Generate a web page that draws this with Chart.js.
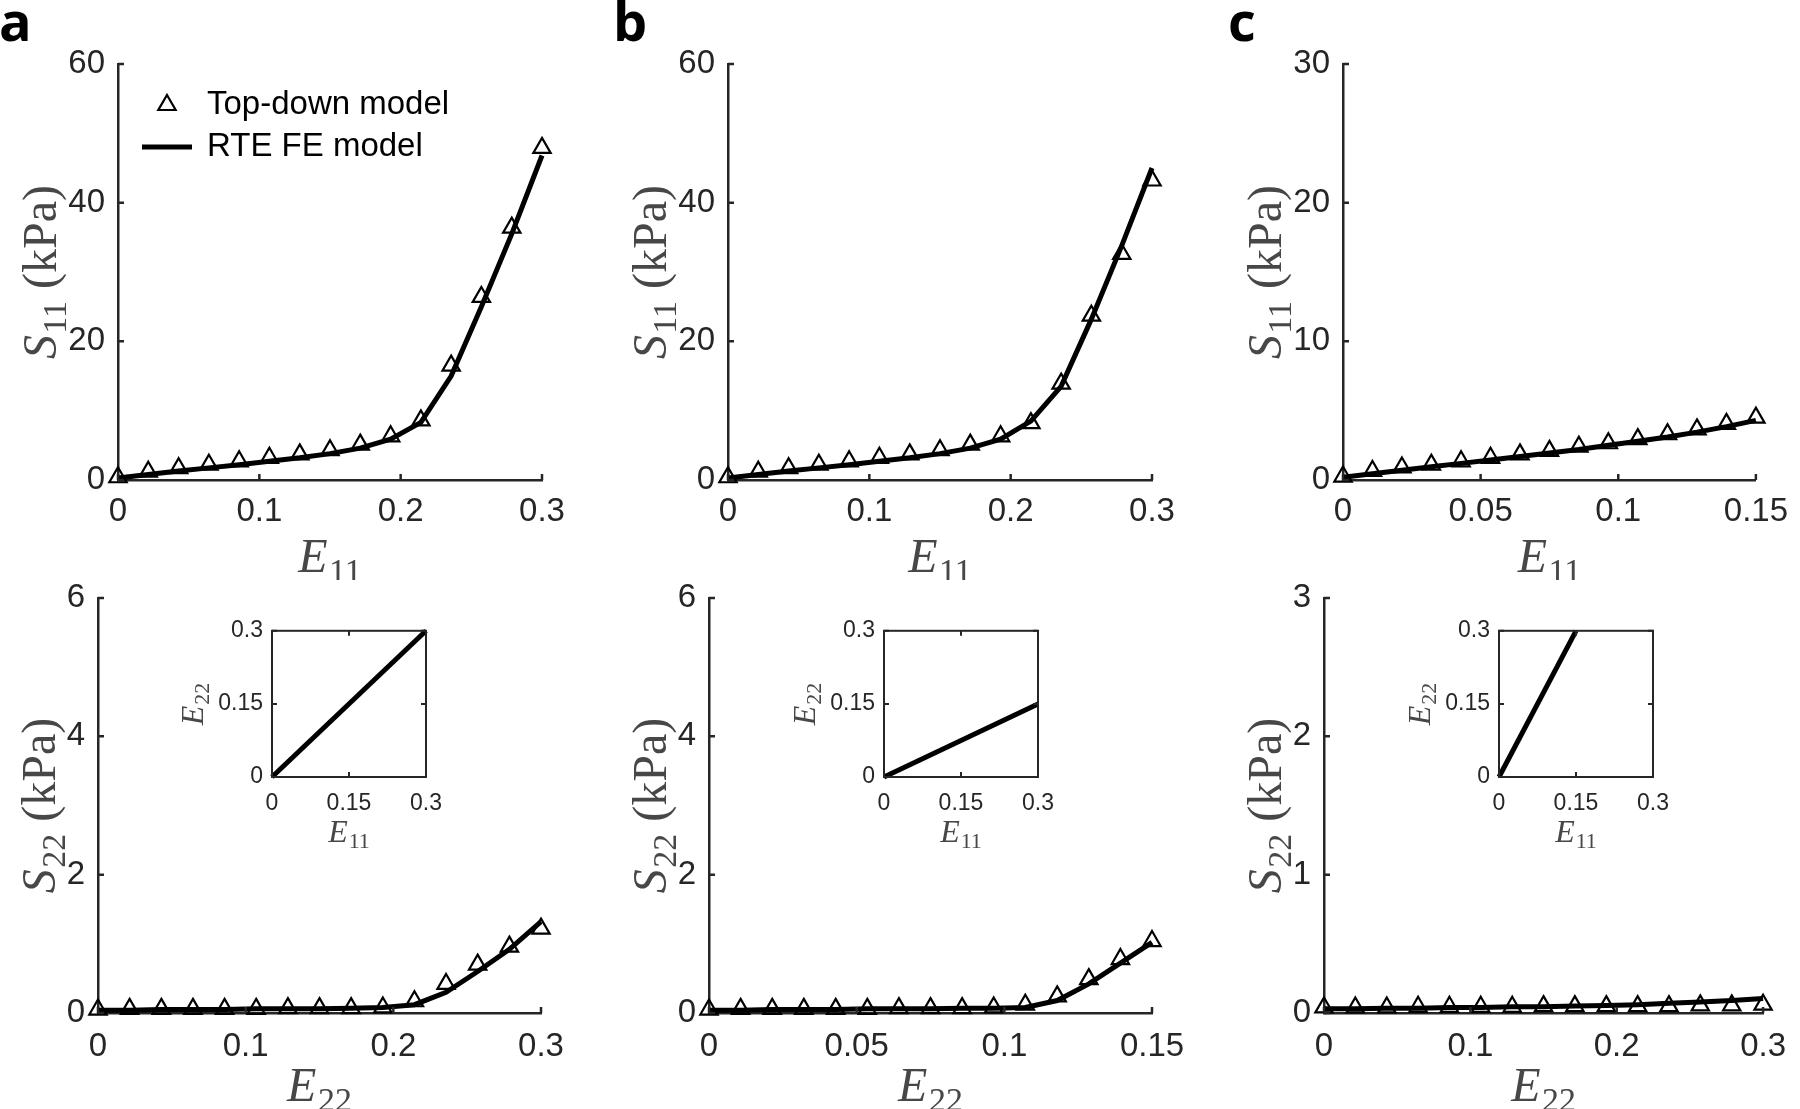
<!DOCTYPE html>
<html><head><meta charset="utf-8">
<script src="https://cdn.jsdelivr.net/npm/chart.js@4.4.0/dist/chart.umd.min.js"></script>
<style>
html,body{margin:0;padding:0;background:#fff;width:1800px;height:1109px;overflow:hidden;position:relative;}
canvas{position:absolute;}
.plabel{position:absolute;font-family:"Open Sans",sans-serif;font-weight:700;font-size:54px;line-height:54px;color:#000;}
</style></head><body>
<div class="plabel" style="left:-1px;top:-7px">a</div>
<div class="plabel" style="left:613px;top:-7px">b</div>
<div class="plabel" style="left:1228px;top:-7px">c</div>
<script>
// ---------------- data ----------------
const strainFull = [0, 0.0214, 0.0429, 0.0643, 0.0857, 0.1071, 0.1286, 0.15, 0.1714, 0.1929, 0.2143, 0.2357, 0.2571, 0.2786, 0.3];
const strainHalf = [0, 0.0107, 0.0214, 0.0321, 0.0429, 0.0536, 0.0643, 0.075, 0.0857, 0.0964, 0.1071, 0.1179, 0.1286, 0.1393, 0.15];

// top row: S11 vs E11
const topDownS11_a = [0.4, 1.2, 1.7, 2.2, 2.7, 3.2, 3.7, 4.3, 5.1, 6.3, 8.6, 16.5, 26.4, 36.4, 47.9];
const feS11_a      = [0.3, 0.8, 1.3, 1.75, 2.2, 2.7, 3.2, 3.8, 4.6, 5.9, 8.3, 15.0, 25.0, 35.5, 46.8];
const topDownS11_b = [0.4, 1.2, 1.7, 2.2, 2.7, 3.2, 3.7, 4.3, 5.1, 6.3, 8.2, 13.9, 23.7, 32.6, 43.2];
const feS11_b      = [0.3, 0.8, 1.3, 1.75, 2.2, 2.7, 3.2, 3.8, 4.6, 5.9, 8.5, 13.5, 23.2, 33.8, 45.0];
const topDownS11_c = [0.25, 0.65, 0.9, 1.1, 1.35, 1.6, 1.85, 2.1, 2.4, 2.65, 2.95, 3.3, 3.65, 4.05, 4.5];
const feS11_c      = [0.2, 0.45, 0.7, 0.95, 1.2, 1.45, 1.7, 1.95, 2.2, 2.5, 2.8, 3.1, 3.45, 3.85, 4.3];

// bottom row: S22 vs E22
const topDownS22_a = [0.05, 0.06, 0.06, 0.06, 0.06, 0.06, 0.07, 0.07, 0.07, 0.08, 0.17, 0.42, 0.70, 0.96, 1.22];
const feS22_a      = [0.04, 0.04, 0.05, 0.05, 0.05, 0.06, 0.06, 0.06, 0.07, 0.08, 0.12, 0.30, 0.60, 0.92, 1.32];
const topDownS22_b = [0.05, 0.06, 0.06, 0.06, 0.06, 0.06, 0.07, 0.07, 0.07, 0.08, 0.12, 0.24, 0.49, 0.78, 1.04];
const feS22_b      = [0.04, 0.04, 0.05, 0.05, 0.05, 0.06, 0.06, 0.06, 0.07, 0.07, 0.08, 0.18, 0.42, 0.72, 1.02];
const topDownS22_c = [0.04, 0.04, 0.04, 0.045, 0.045, 0.045, 0.045, 0.05, 0.05, 0.05, 0.05, 0.05, 0.055, 0.055, 0.06];
const feS22_c      = [0.03, 0.03, 0.035, 0.035, 0.04, 0.04, 0.045, 0.045, 0.05, 0.055, 0.06, 0.07, 0.08, 0.09, 0.105];

// insets: E22 vs E11
const insetE11_a = [0, 0.3],  insetE22_a = [0, 0.3];
const insetE11_b = [0, 0.3],  insetE22_b = [0, 0.15];
const insetE11_c = [0, 0.15], insetE22_c = [0, 0.3];

// tick labels
const ticksE03  = [0, 0.1, 0.2, 0.3];
const ticksE015 = [0, 0.05, 0.1, 0.15];
const ticksS60  = [0, 20, 40, 60];
const ticksS30  = [0, 10, 20, 30];
const ticksS6   = [0, 2, 4, 6];
const ticksS3   = [0, 1, 2, 3];
const ticksInset = [0, 0.15, 0.3];

// ---------------- style ----------------
const SANS = '"Liberation Sans", Arial, sans-serif';
const SERIF = '"Liberation Serif", "Times New Roman", serif';
const AXIS = '#262626';
const TITLE = '#474747';

function pts(xs, ys) { return xs.map((x, i) => ({x: x, y: ys[i]})); }

function drawMathLabel(ctx, lab, cx, cy, size, rot) {
  const fMain = 'italic ' + size + 'px ' + SERIF;
  const fSub = Math.round(size * 0.7) + 'px ' + SERIF;
  const fTail = size + 'px ' + SERIF;
  ctx.save();
  ctx.translate(cx, cy);
  if (rot) ctx.rotate(-Math.PI / 2);
  ctx.font = fMain; const w1 = ctx.measureText(lab.main).width;
  ctx.font = fSub; const w2 = ctx.measureText(lab.sub).width;
  ctx.font = fTail; const w3 = lab.tail ? ctx.measureText(lab.tail).width : 0;
  const kern = size * 0.03;
  let x = -(w1 + kern + w2 + w3) / 2;
  const base = size * 0.25;
  ctx.fillStyle = TITLE; ctx.textBaseline = 'alphabetic'; ctx.textAlign = 'left';
  ctx.font = fMain; ctx.fillText(lab.main, x, base); x += w1 + kern;
  ctx.font = fSub; ctx.fillText(lab.sub, x, base + size * 0.2); x += w2;
  if (lab.tail) { ctx.font = fTail; ctx.fillText(lab.tail, x, base); }
  ctx.restore();
}

const decor = {
  id: 'decor',
  afterDraw(chart, args, o) {
    const ctx = chart.ctx, a = chart.chartArea, xs = chart.scales.x, ys = chart.scales.y;
    ctx.save();
    ctx.strokeStyle = AXIS; ctx.lineWidth = o.tickWidth; ctx.lineCap = 'butt';
    const L = o.tickLen;
    if (o.box) ctx.strokeRect(a.left, a.top, a.right - a.left, a.bottom - a.top);
    ctx.beginPath();
    xs.ticks.forEach(t => {
      const p = xs.getPixelForValue(t.value);
      ctx.moveTo(p, a.bottom); ctx.lineTo(p, a.bottom - L);
      if (o.box) { ctx.moveTo(p, a.top); ctx.lineTo(p, a.top + L); }
    });
    ys.ticks.forEach(t => {
      const p = ys.getPixelForValue(t.value);
      ctx.moveTo(a.left, p); ctx.lineTo(a.left + L, p);
      if (o.box) { ctx.moveTo(a.right, p); ctx.lineTo(a.right - L, p); }
    });
    ctx.stroke();
    drawMathLabel(ctx, o.xTitle, (a.left + a.right) / 2, a.bottom + o.xTitleGap, o.titleSize, false);
    drawMathLabel(ctx, o.yTitle, a.left - o.yTitleGap, (a.top + a.bottom) / 2, o.titleSize, true);
    if (o.legend) {
      const g = o.legend;
      const r = 10, tx = g.tx, ty = g.ty;
      ctx.beginPath();
      for (let k = 0; k < 3; k++) {
        const ang = k * 2 * Math.PI / 3;
        const px = tx + Math.sin(ang) * r, py = ty - Math.cos(ang) * r;
        if (k === 0) ctx.moveTo(px, py); else ctx.lineTo(px, py);
      }
      ctx.closePath();
      ctx.strokeStyle = '#000'; ctx.lineWidth = 2.2; ctx.stroke();
      ctx.beginPath(); ctx.moveTo(g.lx1, g.ly); ctx.lineTo(g.lx2, g.ly);
      ctx.lineWidth = 5; ctx.stroke();
      ctx.fillStyle = '#000'; ctx.font = '33px ' + SANS; ctx.textBaseline = 'middle'; ctx.textAlign = 'left';
      ctx.fillText(g.text1, g.textX, ty);
      ctx.fillText(g.text2, g.textX, g.ly);
    }
    ctx.restore();
  }
};

function makeCanvas(cx, cy, cw, ch, z) {
  const c = document.createElement('canvas');
  c.width = cw; c.height = ch;
  c.style.left = cx + 'px'; c.style.top = cy + 'px';
  c.style.width = cw + 'px'; c.style.height = ch + 'px';
  c.style.zIndex = z;
  document.body.appendChild(c);
  return c;
}

function axisOpts(min, max, tickVals, fontSize, pad, fitFn) {
  return {
    type: 'linear', min: min, max: max,
    grid: { display: false, drawTicks: false },
    border: { display: true, color: AXIS, width: 2.5 },
    afterBuildTicks: s => { s.ticks = tickVals.map(v => ({ value: v })); },
    afterFit: fitFn,
    ticks: { color: AXIS, font: { family: SANS, size: fontSize }, padding: pad, maxRotation: 0, autoSkip: false,
             callback: v => String(v) }
  };
}

function mainChart(cfg) {
  const { cx, cy, cw, ch, l, t, r, b } = cfg;
  const canvas = makeCanvas(cx, cy, cw, ch, 1);
  const yW = l - cx, xH = cy + ch - b;
  new Chart(canvas, {
    type: 'scatter',
    data: {
      datasets: [
        { label: 'Top-down model', data: pts(cfg.xData, cfg.tri), showLine: false, pointStyle: 'triangle',
          pointRadius: 10, pointHoverRadius: 10, pointBorderWidth: 2.2, borderColor: '#000',
          pointBorderColor: '#000', pointBackgroundColor: 'rgba(0,0,0,0)', backgroundColor: 'rgba(0,0,0,0)', clip: false },
        { label: 'RTE FE model', data: pts(cfg.xData, cfg.fe), showLine: true, borderColor: '#000', borderWidth: 5,
          pointRadius: 0, pointHoverRadius: 0, tension: 0, fill: false, clip: false }
      ]
    },
    options: {
      responsive: false, animation: false, devicePixelRatio: 1,
      layout: { padding: { left: 0, top: t - cy, right: cx + cw - r, bottom: 0 } },
      scales: {
        x: Object.assign(axisOpts(0, cfg.xMax, cfg.xTicks, 33, cfg.xPad, s => { s.height = xH; }), { position: 'bottom' }),
        y: Object.assign(axisOpts(0, cfg.yMax, cfg.yTicks, 33, 13, s => { s.width = yW; }), { position: 'left' })
      },
      plugins: {
        legend: { display: false }, tooltip: { enabled: false },
        decor: { tickLen: 6, tickWidth: 2.5, box: false, titleSize: 48,
                 xTitle: cfg.xTitle, yTitle: cfg.yTitle, xTitleGap: cfg.xTitleGap, yTitleGap: cfg.yTitleGap,
                 legend: cfg.legend || null }
      }
    },
    plugins: [decor]
  });
}

function insetChart(cfg) {
  const { l, t, r, b } = cfg;
  const cx = l - 100, cy = t - 16, cw = (r - l) + 100 + 36, ch = (b - t) + 16 + 84;
  const canvas = makeCanvas(cx, cy, cw, ch, 5);
  const yW = l - cx, xH = cy + ch - b;
  const xo = axisOpts(0, 0.3, ticksInset, 23, 13, s => { s.height = xH; });
  const yo = axisOpts(0, 0.3, ticksInset, 23, 9, s => { s.width = yW; });
  xo.border = { display: false }; yo.border = { display: false };
  new Chart(canvas, {
    type: 'scatter',
    data: { datasets: [
      { label: 'E22 vs E11', data: pts(cfg.xData, cfg.yData), showLine: true, borderColor: '#000', borderWidth: 5,
        pointRadius: 0, pointHoverRadius: 0, tension: 0, fill: false, clip: false }
    ] },
    options: {
      responsive: false, animation: false, devicePixelRatio: 1,
      layout: { padding: { left: 0, top: t - cy, right: cx + cw - r, bottom: 0 } },
      scales: { x: Object.assign(xo, { position: 'bottom' }), y: Object.assign(yo, { position: 'left' }) },
      plugins: {
        legend: { display: false }, tooltip: { enabled: false },
        decor: { tickLen: 5, tickWidth: 2, box: true, titleSize: 32,
                 xTitle: { main: 'E', sub: '11' }, yTitle: { main: 'E', sub: '22' },
                 xTitleGap: 57, yTitleGap: 77 }
      }
    },
    plugins: [decor]
  });
}

const S11 = { main: 'S', sub: '11', tail: ' (kPa)' };
const S22 = { main: 'S', sub: '22', tail: ' (kPa)' };
const E11 = { main: 'E', sub: '11' };
const E22 = { main: 'E', sub: '22' };

// top row
mainChart({ cx: 0, cy: 0, cw: 610, ch: 580, l: 118, t: 64, r: 542, b: 480,
  xData: strainFull, tri: topDownS11_a, fe: feS11_a, xMax: 0.3, yMax: 60, xTicks: ticksE03, yTicks: ticksS60,
  xPad: 12, xTitle: E11, yTitle: S11, xTitleGap: 80, yTitleGap: 74,
  legend: { tx: 167, ty: 105, lx1: 142, lx2: 192, ly: 147, textX: 207, text1: 'Top-down model', text2: 'RTE FE model' } });
mainChart({ cx: 610, cy: 0, cw: 612, ch: 580, l: 728, t: 64, r: 1152, b: 480,
  xData: strainFull, tri: topDownS11_b, fe: feS11_b, xMax: 0.3, yMax: 60, xTicks: ticksE03, yTicks: ticksS60,
  xPad: 12, xTitle: E11, yTitle: S11, xTitleGap: 80, yTitleGap: 74 });
mainChart({ cx: 1222, cy: 0, cw: 578, ch: 580, l: 1343, t: 64, r: 1767, b: 480,
  xData: strainHalf, tri: topDownS11_c, fe: feS11_c, xMax: 0.15, yMax: 30, xTicks: ticksE015, yTicks: ticksS30,
  xPad: 12, xTitle: E11, yTitle: S11, xTitleGap: 80, yTitleGap: 74 });

// bottom row
mainChart({ cx: 0, cy: 560, cw: 610, ch: 549, l: 98, t: 598, r: 541, b: 1013,
  xData: strainFull, tri: topDownS22_a, fe: feS22_a, xMax: 0.3, yMax: 6, xTicks: ticksE03, yTicks: ticksS6,
  xPad: 14, xTitle: E22, yTitle: S22, xTitleGap: 76, yTitleGap: 55 });
mainChart({ cx: 610, cy: 560, cw: 612, ch: 549, l: 709, t: 598, r: 1152, b: 1013,
  xData: strainHalf, tri: topDownS22_b, fe: feS22_b, xMax: 0.15, yMax: 6, xTicks: ticksE015, yTicks: ticksS6,
  xPad: 14, xTitle: E22, yTitle: S22, xTitleGap: 76, yTitleGap: 55 });
mainChart({ cx: 1222, cy: 560, cw: 578, ch: 549, l: 1324, t: 598, r: 1767, b: 1013,
  xData: strainFull, tri: topDownS22_c, fe: feS22_c, xMax: 0.3, yMax: 3, xTicks: ticksE03, yTicks: ticksS3,
  xPad: 14, xTitle: E22, yTitle: S22, xTitleGap: 76, yTitleGap: 55 });

// insets
insetChart({ l: 272, t: 624, r: 426, b: 777, xData: insetE11_a, yData: insetE22_a });
insetChart({ l: 884, t: 624, r: 1038, b: 777, xData: insetE11_b, yData: insetE22_b });
insetChart({ l: 1499, t: 624, r: 1653, b: 777, xData: insetE11_c, yData: insetE22_c });
</script>
</body></html>
